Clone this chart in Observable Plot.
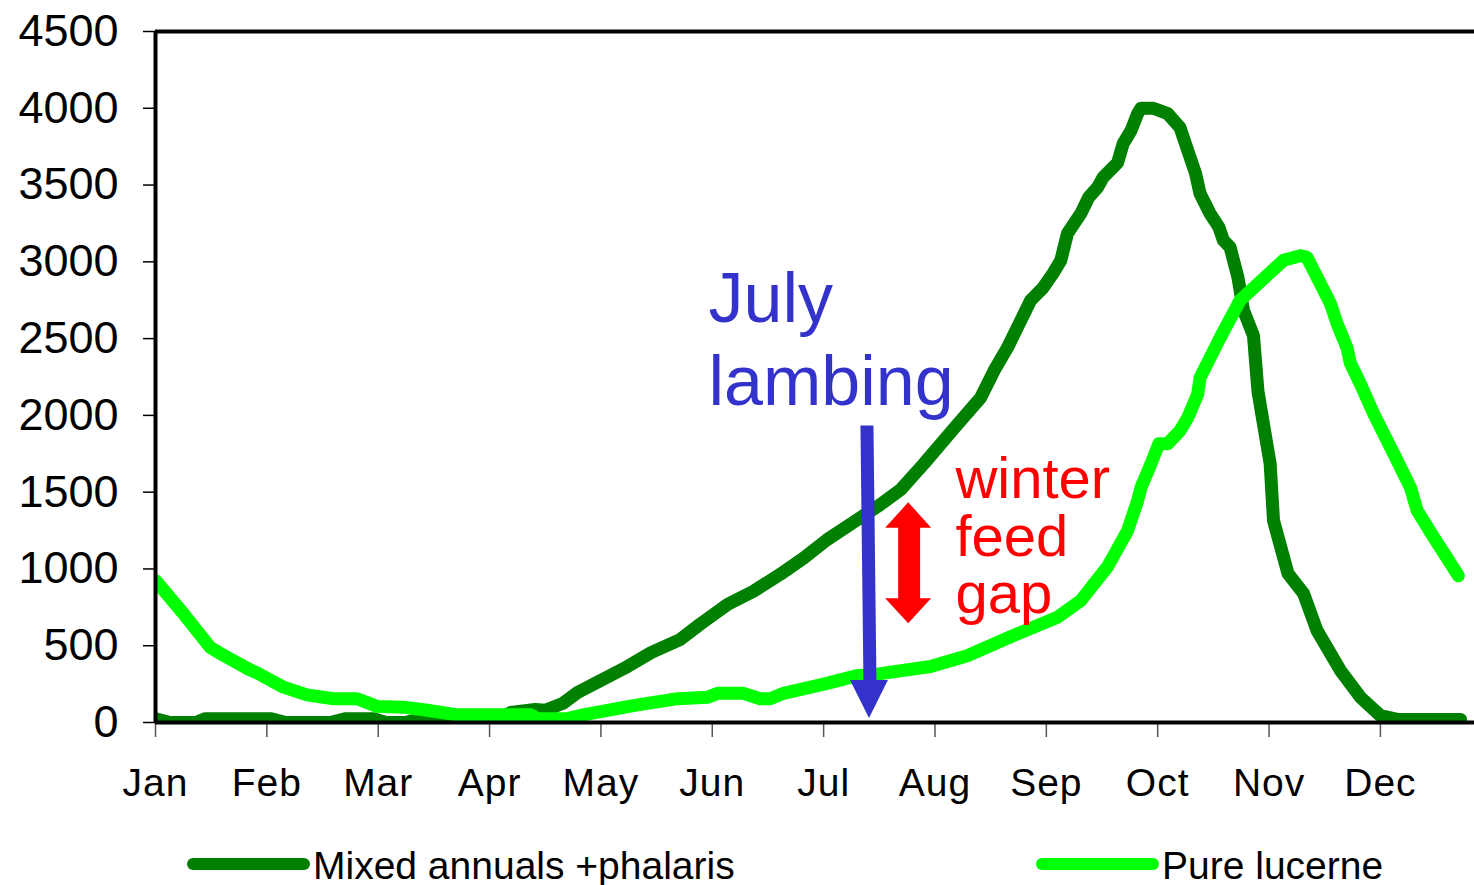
<!DOCTYPE html>
<html>
<head>
<meta charset="utf-8">
<script src="https://cdn.jsdelivr.net/npm/d3@7"></script>
<script src="https://cdn.jsdelivr.net/npm/@observablehq/plot@0.6"></script>
<style>
  html, body { margin: 0; padding: 0; background: #fff; }
  body { font-family: "Liberation Sans", Arial, sans-serif; }
  #wrap { width: 1474px; overflow: hidden; }
  #chart svg { display: block; }
  #chart g[aria-label^="y-axis"] text { font-size: 45px; fill: #000; }
  #chart g[aria-label^="y-axis"] line, #chart g[aria-label^="y-axis"] path { stroke: #000; stroke-width: 1.5px; }
  #chart g[aria-label^="x-axis"] text { font-size: 39px; fill: #000; letter-spacing: 1px; }
  #chart g[aria-label^="x-axis"] line, #chart g[aria-label^="x-axis"] path { stroke: #555; stroke-width: 1.5px; }
  #legend { position: relative; width: 1474px; height: 45px; font-size: 39px; color: #000; }
  #legend .item { position: absolute; top: 0; height: 45px; display: flex; align-items: center; white-space: nowrap; }
  #legend .sw { display: inline-block; width: 123px; height: 12px; border-radius: 6px; margin-right: 3px; position: relative; top: 1px; }
  #legend .lab { position: relative; top: 3px; }
</style>
</head>
<body>
<div id="wrap">
  <div id="chart"></div>
  <div id="legend"></div>
</div>
<script>
// ---- Data ----
const monthLabels = ["Jan","Feb","Mar","Apr","May","Jun","Jul","Aug","Sep","Oct","Nov","Dec"];
const monthTicks = [0,1,2,3,4,5,6,7,8,9,10,11];
const yTicks = [0,500,1000,1500,2000,2500,3000,3500,4000,4500];

const seriesNames = ["Mixed annuals +phalaris", "Pure lucerne"];
const seriesColors = ["#008000", "#00FF00"];

// Mixed annuals + phalaris (x in months from 1 Jan, y in kg/ha)
const mixedMonth = [0.00,0.13,0.36,0.45,1.03,1.17,1.57,1.71,1.96,2.07,2.24,2.33,2.71,3.01,3.19,3.41,3.50,3.66,3.79,4.24,4.45,4.71,4.89,5.14,5.37,5.61,5.82,6.03,6.30,6.51,6.69,6.90,7.20,7.41,7.53,7.65,7.86,7.97,8.06,8.13,8.19,8.31,8.38,8.46,8.51,8.64,8.69,8.76,8.82,8.85,8.96,9.09,9.20,9.27,9.34,9.38,9.47,9.55,9.59,9.65,9.72,9.77,9.86,9.90,9.94,10.01,10.04,10.17,10.31,10.43,10.64,10.82,11.00,11.15,11.72];
const mixedValue = [25,0,0,25,25,0,0,25,25,0,0,15,0,0,65,85,80,125,195,365,455,540,640,770,855,965,1070,1190,1320,1420,1515,1685,1940,2115,2290,2440,2750,2830,2925,3010,3185,3315,3420,3485,3550,3645,3770,3855,3965,4000,4000,3965,3875,3725,3575,3445,3315,3225,3140,3095,2900,2685,2520,2160,1985,1685,1315,970,840,600,340,165,45,20,20];

// Pure lucerne
const lucerneMonth = [0.00,0.25,0.49,0.58,0.83,0.92,1.15,1.36,1.60,1.81,1.99,2.23,2.44,2.71,3.01,3.37,3.43,3.70,3.84,4.29,4.69,4.96,5.05,5.28,5.43,5.52,5.64,6.03,6.30,6.48,6.96,7.29,7.70,8.10,8.31,8.55,8.73,8.82,8.85,8.94,9.01,9.09,9.20,9.27,9.36,9.38,9.56,9.74,9.86,10.13,10.28,10.34,10.55,10.61,10.70,10.73,10.82,10.94,11.12,11.27,11.33,11.48,11.63,11.70];
const lucerneValue = [925,710,490,450,350,320,230,180,155,155,105,100,80,50,50,50,25,25,50,110,155,165,190,190,155,155,190,255,305,315,365,435,565,685,795,1015,1250,1445,1530,1685,1815,1815,1900,1985,2140,2245,2505,2750,2830,3010,3040,3030,2730,2600,2440,2340,2205,2010,1750,1530,1380,1205,1035,955];

// ---- Annotations (data coordinates: months, kg/ha) ----
const lambingLabel = ["July\nlambing"];
const lambingLabelX = 4.966;
const lambingLabelY = 2510;
const lambingShaft = [{x1: 6.389, y1: 1934, x2: 6.416, y2: 270}];
const lambingHead = [
  {v: 273, l: 6.241, r: 6.582},
  {v: 26, l: 6.412, r: 6.412}
];
const gapLabel = ["winter\nfeed\ngap"];
const gapLabelX = 7.184;
const gapLabelY = 1206;
const gapArrow = [
  {v: 1431, l: 6.764, r: 6.764},
  {v: 1265, l: 6.557, r: 6.970},
  {v: 1265, l: 6.674, r: 6.871},
  {v: 806, l: 6.674, r: 6.871},
  {v: 806, l: 6.557, r: 6.970},
  {v: 643, l: 6.764, r: 6.764}
];

// ---- Build tables ----
const mixed = mixedMonth.map((m, i) => ({m, v: mixedValue[i]}));
const lucerne = lucerneMonth.map((m, i) => ({m, v: lucerneValue[i]}));

const lineStyle = {strokeWidth: 13, strokeLinecap: "round", strokeLinejoin: "round", clip: true};

const plot = Plot.plot({
  width: 1474,
  height: 840,
  marginLeft: 155,
  marginRight: 0,
  marginTop: 31,
  marginBottom: 118,
  style: {fontFamily: "'Liberation Sans', Arial, sans-serif", background: "#fff", color: "#000"},
  x: {domain: [0, 11.845], ticks: monthTicks, tickFormat: i => monthLabels[i], tickSize: 15, tickPadding: 31, label: null},
  y: {domain: [0, 4500], ticks: yTicks, tickSize: 12, tickPadding: 25, tickFormat: d => String(d), label: null},
  marks: [
    Plot.line(mixed, {x: "m", y: "v", stroke: seriesColors[0], ...lineStyle}),
    Plot.line(lucerne, {x: "m", y: "v", stroke: seriesColors[1], ...lineStyle}),
    Plot.ruleY([0], {stroke: "#000", strokeWidth: 4}),
    Plot.ruleY([4500], {stroke: "#000", strokeWidth: 4}),
    Plot.ruleX([0], {stroke: "#000", strokeWidth: 4}),
    Plot.link(lambingShaft, {x1: "x1", y1: "y1", x2: "x2", y2: "y2", stroke: "#3333CC", strokeWidth: 13}),
    Plot.areaX(lambingHead, {y: "v", x1: "l", x2: "r", fill: "#3333CC", curve: "linear"}),
    Plot.areaX(gapArrow, {y: "v", x1: "l", x2: "r", fill: "#FF0000", curve: "linear"}),
    Plot.text(lambingLabel, {x: () => lambingLabelX, y: () => lambingLabelY, text: d => d, textAnchor: "start", lineAnchor: "middle", lineHeight: 1.186, fill: "#3333CC", fontSize: 70}),
    Plot.text(gapLabel, {x: () => gapLabelX, y: () => gapLabelY, text: d => d, textAnchor: "start", lineAnchor: "middle", lineHeight: 0.99, fill: "#FF0000", fontSize: 58})
  ]
});
document.getElementById("chart").appendChild(plot);

// ---- Legend ----
const legend = document.getElementById("legend");
const legendLeft = [187, 1036];
seriesNames.forEach((name, i) => {
  const item = document.createElement("div");
  item.className = "item";
  item.style.left = legendLeft[i] + "px";
  const sw = document.createElement("span");
  sw.className = "sw";
  sw.style.background = seriesColors[i];
  const lab = document.createElement("span");
  lab.className = "lab";
  lab.textContent = name;
  item.appendChild(sw);
  item.appendChild(lab);
  legend.appendChild(item);
});
</script>
</body>
</html>
